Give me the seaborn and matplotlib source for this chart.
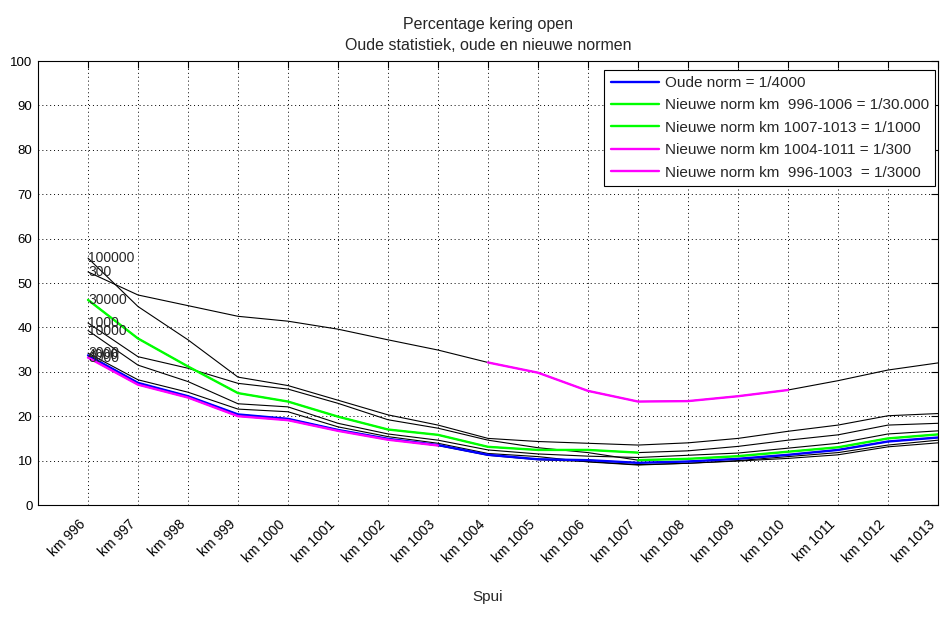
import matplotlib
matplotlib.use("Agg")
import matplotlib.pyplot as plt
import pandas as pd
import seaborn as sns

# Dijkpaal (km) along the Spui
km = [996, 997, 998, 999, 1000, 1001, 1002, 1003, 1004,
      1005, 1006, 1007, 1008, 1009, 1010, 1011, 1012, 1013]
tick_labels = ["km 996", "km 997", "km 998", "km 999", "km 1000", "km 1001",
               "km 1002", "km 1003", "km 1004", "km 1005", "km 1006", "km 1007",
               "km 1008", "km 1009", "km 1010", "km 1011", "km 1012", "km 1013"]

# Percentage kering open per herhalingstijd (jaar)
p300 = [52.5, 47.3, 44.9, 42.5, 41.4, 39.6, 37.2, 34.9, 32.1,
        29.8, 25.7, 23.3, 23.4, 24.5, 25.9, 28.0, 30.4, 32.0]
p1000 = [41.0, 33.4, 30.8, 27.4, 26.1, 22.9, 19.2, 17.3, 14.6,
         12.9, 11.8, 10.1, 10.4, 11.0, 12.0, 13.0, 15.0, 15.9]
p2000 = [34.2, 28.2, 25.4, 21.6, 21.0, 17.6, 15.4, 13.9, 11.6,
         10.9, 9.7, 9.0, 9.4, 9.9, 10.5, 11.3, 13.1, 14.0]
p3000 = [33.2, 27.1, 24.2, 20.0, 19.1, 16.7, 14.7, 13.4, 11.2,
         10.2, 9.8, 9.1, 9.4, 10.0, 10.9, 11.8, 13.5, 14.6]
p4000 = [33.7, 27.5, 24.5, 20.4, 19.4, 16.9, 14.9, 13.5, 11.3,
         10.3, 10.1, 9.5, 9.8, 10.4, 11.3, 12.4, 14.3, 15.2]
p10000 = [39.3, 31.5, 27.8, 22.8, 22.1, 18.4, 16.0, 14.6, 12.4,
          11.5, 11.0, 10.7, 11.2, 11.7, 12.8, 13.9, 16.0, 16.7]
p30000 = [46.2, 37.5, 31.2, 25.2, 23.3, 19.9, 17.0, 15.8, 13.1,
          12.4, 12.4, 11.8, 12.2, 13.2, 14.6, 15.8, 18.0, 18.4]
p100000 = [55.6, 44.7, 37.2, 28.8, 26.9, 23.6, 20.3, 18.0, 15.0,
           14.3, 13.9, 13.5, 14.0, 15.0, 16.6, 18.0, 20.1, 20.6]

return_periods = ["300", "1000", "2000", "3000", "4000", "10000", "30000", "100000"]
series = [p300, p1000, p2000, p3000, p4000, p10000, p30000, p100000]

rows = []
for rp, vals in zip(return_periods, series):
    for k, v in zip(km, vals):
        rows.append({"km": k, "pct": v, "rp": rp})
df = pd.DataFrame(rows)

sns.set_style("white")
plt.rcParams["font.family"] = ["Liberation Sans", "DejaVu Sans"]

fig = plt.figure(figsize=(9.4, 6.25), dpi=100)
ax = fig.add_axes([38 / 940, 120 / 625, 900 / 940, 444 / 625])

# all return periods as thin black lines
sns.lineplot(data=df, x="km", y="pct", hue="rp", hue_order=return_periods,
             palette=["black"] * len(return_periods), linewidth=0.8,
             legend=False, ax=ax)

for rp, vals in zip(return_periods, series):
    ax.text(km[0], vals[0], rp, fontsize=10, ha="left", va="center")

# norms highlighted on top
segments = [
    ("Oude norm = 1/4000", "#0000ff", km, p4000),
    ("Nieuwe norm km  996-1006 = 1/30.000", "#00ff00", km[:12], p30000[:12]),
    ("Nieuwe norm km 1007-1013 = 1/1000", "#00ff00", km[11:], p1000[11:]),
    ("Nieuwe norm km 1004-1011 = 1/300", "#ff00ff", km[8:15], p300[8:15]),
    ("Nieuwe norm km  996-1003  = 1/3000", "#ff00ff", km[:8], p3000[:8]),
]
for label, color, xs, ys in segments:
    sns.lineplot(x=xs, y=ys, color=color, linewidth=1.7, label=label, ax=ax)

ax.set_xlim(995, 1013)
ax.set_ylim(0, 100)
ax.set_yticks(range(0, 101, 10))
ax.set_xticks(km)
ax.set_xticklabels(tick_labels, rotation=45, ha="right", va="bottom",
                   rotation_mode="anchor")
ax.tick_params(axis="both", direction="in", length=5, width=0.8,
               top=True, right=True, colors="black", labelsize=9.5)
ax.tick_params(axis="x", labelsize=10, pad=16)
ax.tick_params(axis="y", pad=4)
for s in ax.spines.values():
    s.set_color("black")
    s.set_linewidth(0.8)

ax.grid(True, color="black", linestyle=(0, (1, 3)), linewidth=0.7)

ax.set_title("Percentage kering open\nOude statistiek, oude en nieuwe normen",
             fontsize=11.5, pad=8, linespacing=1.5)
ax.set_xlabel("Spui", fontsize=11)
ax.set_ylabel("")
ax.xaxis.set_label_coords(0.5, -0.192)

leg = ax.legend(loc="upper right", bbox_to_anchor=(0.9967, 0.98),
                borderaxespad=0, fontsize=11, frameon=True, fancybox=False,
                edgecolor="black", framealpha=1, handlelength=3.2,
                handletextpad=0.35, labelspacing=0.55)
leg.get_frame().set_linewidth(0.8)

fig.savefig("out.png", dpi=100)
